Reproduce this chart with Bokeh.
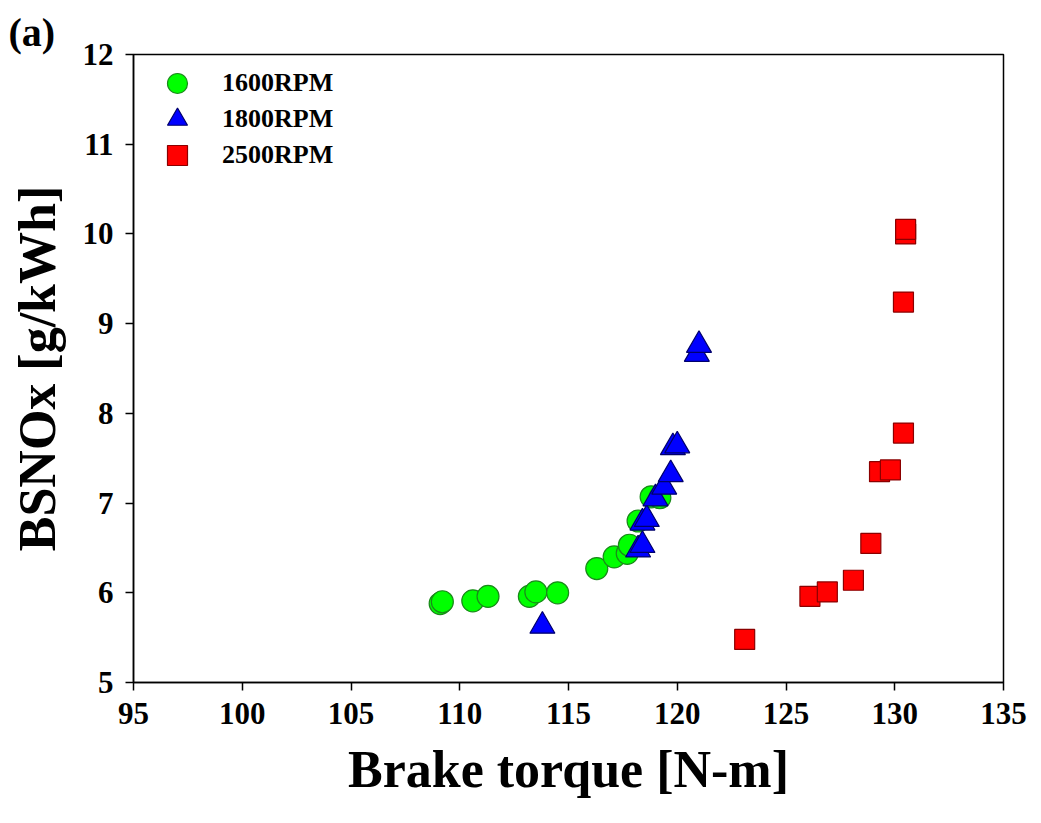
from bokeh.plotting import figure
from bokeh.models import FixedTicker, Legend, LegendItem, Title
from bokeh.embed import file_html
from bokeh.resources import INLINE

# ---- data ----
rpm1600_x = [109.1, 109.2, 110.6, 111.3, 113.2, 113.5, 114.5, 116.3, 117.1, 117.7, 117.8, 118.2, 118.8, 119.2]
rpm1600_y = [5.88, 5.90, 5.91, 5.96, 5.96, 6.01, 6.00, 6.27, 6.40, 6.44, 6.53, 6.80, 7.07, 7.06]

rpm1800_x = [113.8, 118.2, 118.4, 118.4, 118.6, 119.0, 119.4, 119.7, 119.8, 120.0, 120.9, 121.0]
rpm1800_y = [5.63, 6.48, 6.53, 6.78, 6.82, 7.05, 7.18, 7.32, 7.62, 7.64, 8.66, 8.76]

rpm2500_x = [123.1, 126.1, 126.9, 128.1, 128.9, 129.3, 129.8, 130.4, 130.4, 130.5, 130.5]
rpm2500_y = [5.48, 5.96, 6.01, 6.14, 6.55, 7.35, 7.37, 7.78, 9.24, 10.0, 10.05]

series_labels = ["1600RPM", "1800RPM", "2500RPM"]
x_ticks = [95, 100, 105, 110, 115, 120, 125, 130, 135]
y_ticks = [5, 6, 7, 8, 9, 10, 11, 12]
x_title = "Brake torque [N-m]"
y_title = "BSNOx [g/kWh]"

FONT = "Liberation Serif"

p = figure(width=1041, height=823, x_range=(95, 135), y_range=(5, 12),
           output_backend="svg", toolbar_location=None,
           min_border_left=133, min_border_right=38,
           min_border_top=54, min_border_bottom=141)

p.xgrid.visible = False
p.ygrid.visible = False
p.outline_line_color = "black"
p.outline_line_width = 1.5

for ax in (p.xaxis, p.yaxis):
    ax.axis_line_width = 1.5
    ax.axis_line_color = "black"
    ax.major_tick_line_width = 1.5
    ax.major_tick_in = 0
    ax.major_tick_out = 8
    ax.minor_tick_line_color = None
    ax.major_label_text_font = FONT
    ax.major_label_text_font_style = "bold"
    ax.major_label_text_font_size = "31px"
    ax.major_label_text_color = "black"
    ax.axis_label_text_font = FONT
    ax.axis_label_text_font_style = "bold"
    ax.axis_label_text_font_size = "52px"
    ax.axis_label_text_color = "black"

p.xaxis.ticker = FixedTicker(ticks=x_ticks)
p.yaxis.ticker = FixedTicker(ticks=y_ticks)
p.xaxis.axis_label = x_title
p.yaxis.axis_label = y_title
p.xaxis.major_label_standoff = 12
p.yaxis.major_label_standoff = 12
p.xaxis.axis_label_standoff = 14
p.yaxis.axis_label_standoff = 14

r1 = p.scatter(rpm1600_x, rpm1600_y, marker="circle", size=22,
               fill_color="#00ff00", line_color="#1a8a1a", line_width=1.2)
r2 = p.scatter(rpm1800_x, rpm1800_y, marker="triangle", size=25,
               fill_color="#0000ff", line_color="#00006b", line_width=1.2)
r3 = p.scatter(rpm2500_x, rpm2500_y, marker="square", size=20,
               fill_color="#ff0000", line_color="#8b0000", line_width=1.2)

# one single-item legend per series so that markers are large but rows stay close
for i, (lbl, rend) in enumerate(zip(series_labels, [r1, r2, r3])):
    lg = Legend(items=[LegendItem(label=lbl, renderers=[rend])],
                location=(19, 574 - 36 * i), margin=0, padding=0, spacing=0,
                glyph_width=50, glyph_height=50, label_height=50,
                label_standoff=20,
                label_text_font=FONT, label_text_font_style="bold",
                label_text_font_size="26px", label_text_color="black",
                border_line_color=None, background_fill_alpha=0)
    p.add_layout(lg, "center")

title = Title(text="(a)", align="left", offset=-125, standoff=0,
              text_font=FONT, text_font_style="bold", text_font_size="40px",
              text_color="black")
p.add_layout(title, "above")

open("out.html", "w").write(file_html(p, INLINE))
